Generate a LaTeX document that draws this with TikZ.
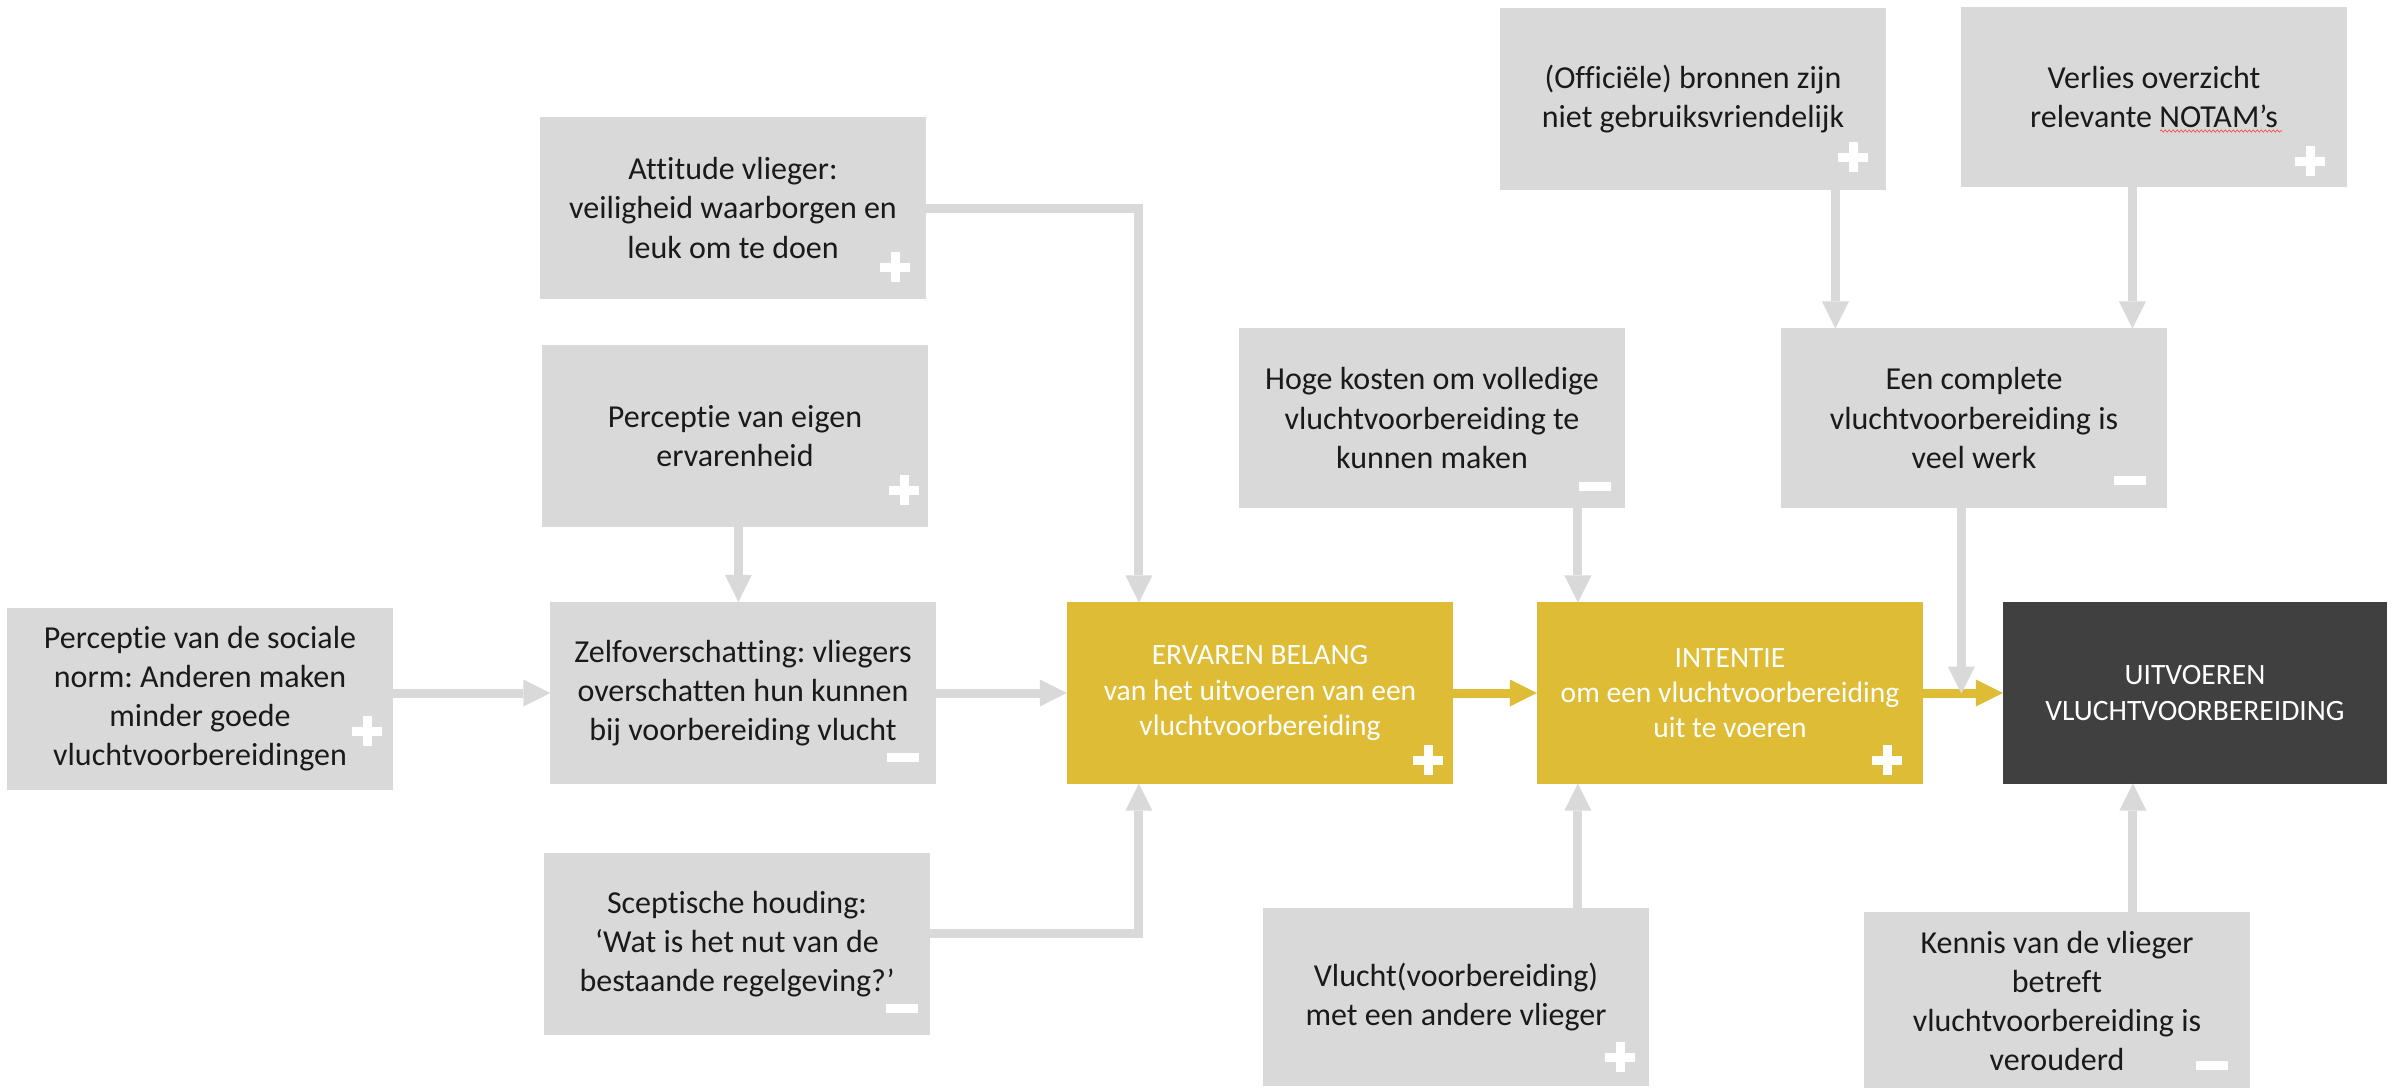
\documentclass[tikz,border=0pt]{standalone}
\usepackage{fontspec}
\setmainfont{Carlito}[Ligatures={NoCommon}]
\frenchspacing
\usetikzlibrary{arrows.meta,calc,decorations.pathmorphing}
\definecolor{boxgray}{HTML}{D9D9D9}
\definecolor{arrgray}{HTML}{D9D9D9}
\definecolor{ochre}{HTML}{DFBC35}
\definecolor{darkbox}{HTML}{404040}
\definecolor{txt}{HTML}{1A1A1A}
\tikzset{
  every node/.style={inner sep=0pt, outer sep=0pt},
  graybox/.style={fill=boxgray, minimum width=3.85cm, minimum height=1.82cm, align=center, text=txt,
     font=\fontsize{9.1pt}{11.1pt}\selectfont},
  yellowbox/.style={fill=ochre, minimum width=3.86cm, minimum height=1.81cm, align=center, text=white,
     font=\fontsize{8.4pt}{10pt}\selectfont},
  darkbx/.style={fill=darkbox, minimum width=3.84cm, minimum height=1.81cm, align=center, text=white,
     font=\fontsize{8.4pt}{10pt}\selectfont},
  garrow/.style={draw=arrgray, line width=0.09cm, -{Triangle[length=0.27cm,width=0.27cm,line width=0pt]}},
  yarrow/.style={draw=ochre, line width=0.09cm, -{Triangle[length=0.27cm,width=0.27cm,line width=0pt]}},
  plusmark/.pic={\fill[white] (-15,-4.5) rectangle (15,4.5); \fill[white] (-4.5,-15) rectangle (4.5,15);},
  minusmark/.pic={\fill[white] (-16,-4.5) rectangle (16,4.5);}
}
\begin{document}
\begin{tikzpicture}[x=0.01cm,y=-0.01cm]
\useasboundingbox (0,0) rectangle (2399,1087);
% boxes
\node[graybox] (soc) at (200,699) {Perceptie van de sociale\\norm: Anderen maken\\minder goede\\vluchtvoorbereidingen};
\node[graybox] (att) at (733,208) {Attitude vlieger:\\veiligheid waarborgen en\\leuk om te doen};
\node[graybox] (perc) at (735,436) {Perceptie van eigen\\ervarenheid};
\node[graybox] (zelf) at (743,693) {Zelfoverschatting: vliegers\\overschatten hun kunnen\\bij voorbereiding vlucht};
\node[graybox] (scep) at (737,944) {Sceptische houding:\\‘Wat is het nut van de\\bestaande regelgeving?’};
\node[yellowbox] (erv) at (1260,693) {ERVAREN BELANG\\van het uitvoeren van een\\vluchtvoorbereiding};
\node[yellowbox] (int) at (1730,693) {INTENTIE\\om een vluchtvoorbereiding\\uit te voeren};
\node[darkbx] (uit) at (2195,693) {UITVOEREN\\VLUCHTVOORBEREIDING};
\node[graybox, minimum height=1.79cm] (hoge) at (1432,418) {Hoge kosten om volledige\\vluchtvoorbereiding te\\kunnen maken};
\node[graybox, minimum height=1.79cm] (comp) at (1974,418) {Een complete\\vluchtvoorbereiding is\\veel werk};
\node[graybox] (off) at (1693,99) {(Officiële) bronnen zijn\\niet gebruiksvriendelijk};
\node[graybox, minimum height=1.80cm] (ver) at (2154,97) {Verlies overzicht\\relevante NOTAM’s};
\node[graybox, minimum height=1.78cm] (vl) at (1456,997) {Vlucht(voorbereiding)\\met een andere vlieger};
\node[graybox, minimum height=1.78cm] (ken) at (2057,1001) {Kennis van de vlieger\\betreft\\vluchtvoorbereiding is\\verouderd};
% spell-check underline
\draw[red!80!white, line width=0.15pt, decorate, decoration={snake, amplitude=0.012cm, segment length=0.04cm}] (2160,131) -- (2282,131);
% signs
\pic at (367,731) {plusmark};
\pic at (895,267) {plusmark};
\pic at (904,490) {plusmark};
\pic at (903,757) {minusmark};
\pic at (902,1008) {minusmark};
\pic at (1428,760) {plusmark};
\pic at (1887,760) {plusmark};
\pic at (1595,486) {minusmark};
\pic at (2130,480) {minusmark};
\pic at (1853,157) {plusmark};
\pic at (2310,161) {plusmark};
\pic at (1620,1057) {plusmark};
\pic at (2212,1065) {minusmark};
% helper coordinates
\coordinate (ervT) at ($(erv.north west)+(72,0)$);
\coordinate (ervB) at ($(erv.south west)+(72,0)$);
\coordinate (intT) at ($(int.north west)+(41,0)$);
\coordinate (intB) at ($(int.south west)+(41,0)$);
\coordinate (compA) at ($(comp.north west)+(54,0)$);
\coordinate (compB) at ($(comp.north west)+(351,0)$);
\coordinate (uitB) at ($(uit.south west)+(130,0)$);
\coordinate (join) at ($(comp.south west)+(180,186)$);
\coordinate (zelfT) at ($(zelf.north west)+(188,0)$);
% connectors
\draw[garrow] (soc.east |- zelf.west) -- (zelf.west);
\draw[garrow] (perc.south -| zelfT) -- (zelfT);
\draw[garrow] (att.east) -| (ervT);
\draw[garrow] ($(scep.east)+(0,-11)$) -| (ervB);
\draw[garrow] (zelf.east) -- (erv.west);
\draw[yarrow] (erv.east) -- (int.west);
\draw[yarrow] (int.east) -- (uit.west);
\draw[garrow] (hoge.south -| intT) -- (intT);
\draw[garrow] (vl.north -| intB) -- (intB);
\draw[garrow] (off.south -| compA) -- (compA);
\draw[garrow] (ver.south -| compB) -- (compB);
\draw[garrow] (comp.south -| join) -- (join);
\draw[garrow] (ken.north -| uitB) -- (uitB);
\end{tikzpicture}
\end{document}
